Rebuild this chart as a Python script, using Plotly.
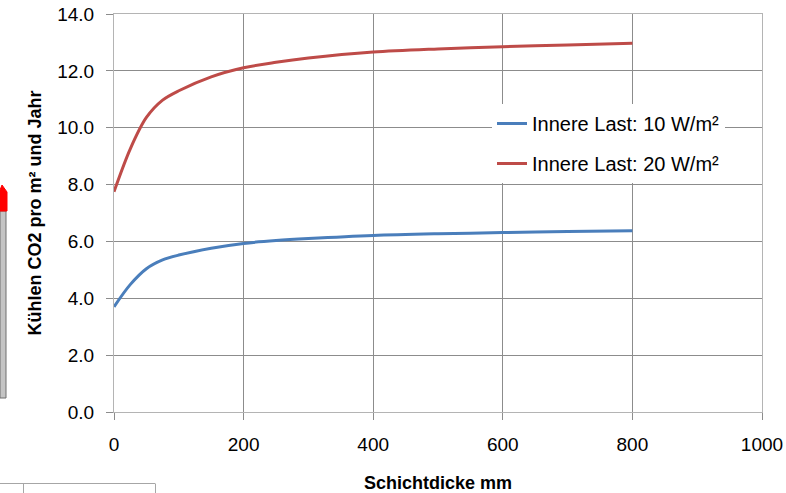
import plotly.graph_objects as go

# Layer thickness in mm
thickness = [0, 25, 50, 75, 100, 150, 200, 250, 300, 400, 500, 600, 700, 800]
# Cooling CO2 per m² and year
load_10 = [3.70, 4.48, 5.04, 5.35, 5.52, 5.76, 5.93, 6.03, 6.10, 6.21, 6.27, 6.31, 6.35, 6.38]
load_20 = [7.75, 9.25, 10.36, 10.97, 11.30, 11.79, 12.11, 12.30, 12.45, 12.66, 12.77, 12.85, 12.91, 12.97]
series_names = ["Innere Last: 10 W/m²", "Innere Last: 20 W/m²"]
series_colors = ["#4a7ebb", "#be4b48"]

W, H = 786, 493
L, R, T, B = 114, 24, 14, 81
FONT = "Liberation Sans"

fig = go.Figure()
for i, (vals, name, col) in enumerate(zip([load_10, load_20], series_names, series_colors)):
    fig.add_trace(go.Scatter(
        x=thickness, y=vals, mode="lines", name=name,
        line=dict(color=col, width=3, shape="spline", smoothing=0.9),
        legendgroup=f"g{i}",
    ))

# pixel -> paper helpers for the decorations outside the plot area
pw, ph = W - L - R, H - T - B
def px(x):
    return (x - L) / pw
def py(y):
    return (H - B - y) / ph

shapes = [
    # hatched box and red marker at the left edge
    dict(type="rect", xref="paper", yref="paper", x0=px(0), x1=px(6), y0=py(398), y1=py(211),
         fillcolor="#c4c4c4", line=dict(color="#6f6f6f", width=1), layer="above"),
    dict(type="path", xref="paper", yref="paper",
         path=f"M {px(0)},{py(211)} L {px(7)},{py(211)} L {px(7)},{py(192)} L {px(2)},{py(185)} L {px(0)},{py(190)} Z",
         fillcolor="#ff0000", line=dict(color="#ff0000", width=1), layer="above"),
    # table edge at the bottom left
    dict(type="line", xref="paper", yref="paper", x0=px(0), x1=px(155), y0=py(483.5), y1=py(483.5),
         line=dict(color="#a6a6a6", width=1)),
    dict(type="line", xref="paper", yref="paper", x0=px(23.5), x1=px(23.5), y0=py(483.5), y1=py(493),
         line=dict(color="#a6a6a6", width=1)),
    dict(type="line", xref="paper", yref="paper", x0=px(155.5), x1=px(155.5), y0=py(483.5), y1=py(493),
         line=dict(color="#a6a6a6", width=1)),
]

fig.update_layout(
    width=W, height=H,
    margin=dict(l=L, r=R, t=T, b=B, autoexpand=False),
    paper_bgcolor="white", plot_bgcolor="white",
    font=dict(family=FONT, size=18, color="black"),
    showlegend=True,
    legend=dict(
        x=px(492), y=py(104), xanchor="left", yanchor="top",
        bgcolor="white", borderwidth=0,
        font=dict(family=FONT, size=20, color="black"),
        traceorder="grouped", tracegroupgap=11,
        itemwidth=30,
    ),
    xaxis=dict(
        range=[0, 1000], dtick=200, tick0=0,
        showgrid=True, gridcolor="#8c8c8c", gridwidth=1,
        showline=True, linecolor="#b4b4b4", linewidth=1, mirror=True,
        ticks="outside", ticklen=7, tickcolor="#8c8c8c",
        tickfont=dict(family=FONT, size=19), ticklabelstandoff=8,
        zeroline=False, automargin=False,
        title=dict(text="<b>Schichtdicke mm</b>", font=dict(family=FONT, size=18), standoff=26),
    ),
    yaxis=dict(
        range=[0, 14], dtick=2, tick0=0, tickformat=".1f",
        showgrid=True, gridcolor="#8c8c8c", gridwidth=1,
        showline=True, linecolor="#b4b4b4", linewidth=1, mirror=True,
        ticks="outside", ticklen=7, tickcolor="#8c8c8c",
        tickfont=dict(family=FONT, size=19), ticklabelstandoff=8,
        zeroline=False, automargin=False,
        title=dict(text="<b>Kühlen CO2 pro m² und Jahr</b>", font=dict(family=FONT, size=18), standoff=10),
    ),
    shapes=shapes,
)

fig.write_html("out.html")
